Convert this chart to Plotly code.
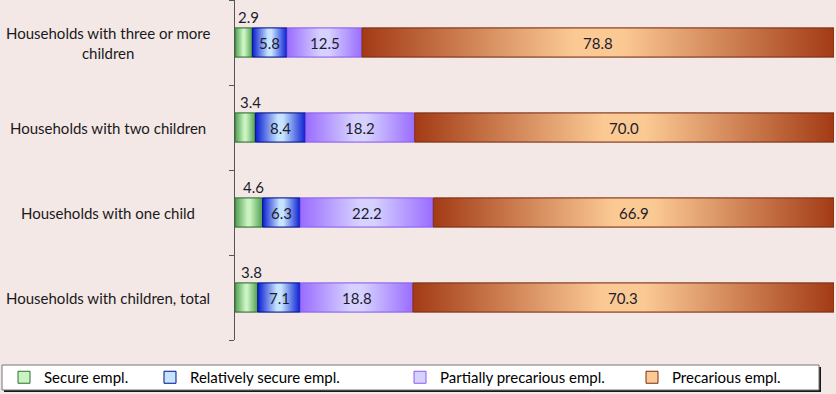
import plotly.graph_objects as go

# ---- data (bottom to top) ----
categories = ["Households with children, total",
              "Households with one child",
              "Households with two children",
              "Households with three or more<br>children"]
series_names = ["Secure empl.", "Relatively secure empl.",
                "Partially precarious empl.", "Precarious empl."]
secure = [3.8, 4.6, 3.4, 2.9]
rel_secure = [7.1, 6.3, 8.4, 5.8]
partial = [18.8, 22.2, 18.2, 12.5]
precarious = [70.3, 66.9, 70.0, 78.8]

# ---- styles ----
edge_cols = ["#4f9e4f", "#0a1ed2", "#9a6cff", "#a33b15"]
light_cols = ["#c9f3c1", "#c6e4ff", "#d6d2ff", "#fbc994"]
line_cols = ["#2f6f2f", "#00108a", "#8a5cf0", "#7a2c10"]
legend_text_px = [44, 190, 440, 672]
BG = "#F4E8E7"
FONT = "Lato"
L, R, T, B = 235, 2, 0, 54
W, H = 836, 394
PW, PH = W - L - R, H - T - B
HALF = 0.17

all_series = [secure, rel_secure, partial, precarious]
ypos = list(range(len(categories)))

fig = go.Figure()

bases = [0.0] * len(categories)
for k, (name, vals) in enumerate(zip(series_names, all_series)):
    fig.add_trace(go.Bar(
        name=name, y=ypos, x=vals, base=list(bases), orientation="h",
        width=2 * HALF,
        marker=dict(color=light_cols[k], line=dict(color=line_cols[k], width=1)),
        legend="legend" if k == 0 else f"legend{k+1}",
        hoverinfo="skip",
    ))
    # gradient overlay for each segment
    for i, v in enumerate(vals):
        x0, x1 = bases[i], bases[i] + v
        fig.add_trace(go.Scatter(
            x=[x0, x1, x1, x0, x0],
            y=[i - HALF, i - HALF, i + HALF, i + HALF, i - HALF],
            mode="lines", fill="toself",
            line=dict(color=line_cols[k], width=0.8),
            fillgradient=dict(
                type="horizontal", start=x0, stop=x1,
                colorscale=[[0, edge_cols[k]], [0.45, light_cols[k]],
                            [0.55, light_cols[k]], [1, edge_cols[k]]]),
            showlegend=False, hoverinfo="skip",
        ))
    bases = [b + v for b, v in zip(bases, vals)]

annotations = []
# value labels
bases = [0.0] * len(categories)
for k, vals in enumerate(all_series):
    for i, v in enumerate(vals):
        if k == 0:
            annotations.append(dict(
                x=bases[i] + v / 2, y=i + HALF, xref="x", yref="y",
                text=f"{v:.1f}", showarrow=False, xshift=5, yshift=11,
                font=dict(family=FONT, size=15, color="#1c1c2c")))
        else:
            annotations.append(dict(
                x=bases[i] + v / 2, y=i, xref="x", yref="y",
                text=f"{v:.1f}", showarrow=False,
                font=dict(family=FONT, size=15, color="#1c1c2c")))
    bases = [b + v for b, v in zip(bases, vals)]

# category labels (centered, like the original)
for i, c in enumerate(categories):
    annotations.append(dict(
        x=(108 - L) / PW, y=i, xref="paper", yref="y", text=c,
        showarrow=False, xanchor="center", align="center",
        font=dict(family=FONT, size=15, color="#1a1a1a")))


def px_x(p):
    return (p - L) / PW


def px_y(p):
    return (PH - (p - T)) / PH


shapes = [
    dict(type="rect", xref="paper", yref="paper",
         x0=px_x(4), x1=px_x(821), y0=px_y(392), y1=px_y(367),
         fillcolor="#1a1a1a", line=dict(width=0), layer="above"),
    dict(type="rect", xref="paper", yref="paper",
         x0=px_x(2), x1=px_x(819), y0=px_y(390), y1=px_y(365),
         fillcolor="white", line=dict(color="#777777", width=1), layer="above"),
]

layout_legends = {}
for k in range(4):
    key = "legend" if k == 0 else f"legend{k+1}"
    layout_legends[key] = dict(
        x=px_x(legend_text_px[k] - 40), xanchor="left",
        y=px_y(377.5), yanchor="middle",
        bgcolor="rgba(0,0,0,0)", borderwidth=0,
        font=dict(family=FONT, size=15, color="#000000"),
        itemwidth=30, orientation="h",
    )

fig.update_layout(
    width=W, height=H,
    margin=dict(l=L, r=R, t=T, b=B),
    paper_bgcolor=BG, plot_bgcolor=BG,
    barmode="overlay",
    showlegend=True,
    xaxis=dict(range=[0, 100], visible=False, fixedrange=True),
    yaxis=dict(range=[-0.5, len(categories) - 0.5],
               tickvals=[j - 0.5 for j in range(len(categories) + 1)],
               showticklabels=False, ticks="outside", ticklen=5,
               tickcolor="#555555", showline=True, linecolor="#555555",
               linewidth=1, showgrid=False, zeroline=False, fixedrange=True),
    annotations=annotations,
    shapes=shapes,
    **layout_legends,
)

fig.write_html("out.html",
               config={"displayModeBar": False},
               post_script="document.body.style.margin='0';document.body.style.padding='0';")
